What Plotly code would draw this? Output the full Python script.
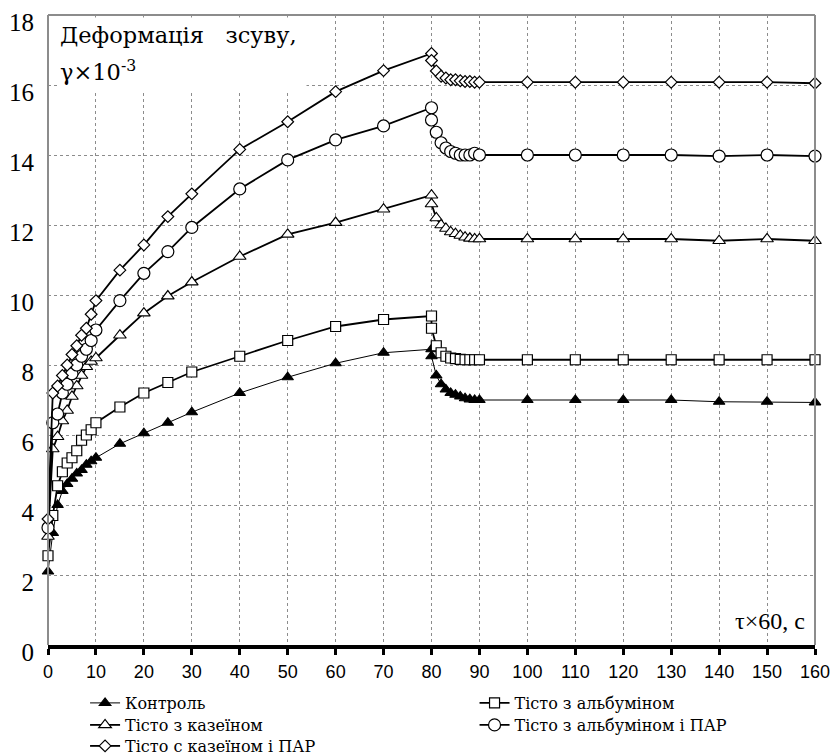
import plotly.graph_objects as go

# time points (×60 s)
t = [0, 1, 2, 3, 4, 5, 6, 7, 8, 9, 10, 15, 20, 25, 30, 40, 50, 60, 70, 80,
     80, 81, 82, 83, 84, 85, 86, 87, 88, 89, 90,
     100, 110, 120, 130, 140, 150, 160]

control = [2.1, 3.2, 4.0, 4.4, 4.6, 4.75, 4.9, 5.0, 5.15, 5.25, 5.35,
           5.75, 6.05, 6.35, 6.65, 7.2, 7.65, 8.05, 8.35, 8.45,
           8.25, 7.7, 7.45, 7.3, 7.2, 7.15, 7.1, 7.05, 7.02, 7.0, 7.0,
           7.0, 7.0, 7.0, 7.0, 6.95, 6.95, 6.93]

albumin = [2.55, 3.7, 4.55, 4.95, 5.2, 5.35, 5.55, 5.85, 6.0, 6.15, 6.35,
           6.8, 7.2, 7.5, 7.8, 8.25, 8.7, 9.1, 9.3, 9.4,
           9.05, 8.55, 8.35, 8.25, 8.2, 8.18, 8.16, 8.15, 8.15, 8.15, 8.15,
           8.15, 8.15, 8.15, 8.15, 8.15, 8.15, 8.15]

casein = [3.1, 5.6, 5.95, 6.4, 6.7, 7.1, 7.4, 7.7, 7.95, 8.1, 8.2,
          8.85, 9.48, 9.97, 10.37, 11.1, 11.73, 12.07, 12.45, 12.85,
          12.6, 12.2, 12.0, 11.9, 11.8, 11.75, 11.7, 11.65, 11.62, 11.6, 11.6,
          11.6, 11.6, 11.6, 11.6, 11.55, 11.6, 11.55]

albumin_par = [3.35, 6.35, 6.6, 7.2, 7.45, 7.75, 8.0, 8.25, 8.45, 8.7, 9.0,
               9.84, 10.62, 11.24, 11.93, 13.03, 13.86, 14.43, 14.83, 15.35,
               15.0, 14.65, 14.35, 14.2, 14.1, 14.05, 14.0, 14.0, 14.0, 14.05, 14.0,
               14.0, 14.0, 14.0, 14.0, 13.97, 14.0, 13.97]

casein_par = [3.6, 7.2, 7.4, 7.7, 8.0, 8.3, 8.55, 8.85, 9.05, 9.45, 9.84,
              10.71, 11.43, 12.24, 12.89, 14.16, 14.95, 15.81, 16.41, 16.9,
              16.7, 16.4, 16.25, 16.2, 16.15, 16.15, 16.12, 16.1, 16.1, 16.08, 16.08,
              16.08, 16.08, 16.08, 16.08, 16.08, 16.08, 16.05]

names = ["Контроль", "Тісто з альбуміном", "Тісто з казеїном",
         "Тісто з альбуміном і ПАР", "Тісто с казеїном і ПАР"]

x_ticks = list(range(0, 161, 10))
y_ticks = list(range(0, 19, 2))

SERIF = "Liberation Serif, Times New Roman, serif"
WIDE_SERIF = "DejaVu Serif, serif"
SANS = "Liberation Sans, Arial, sans-serif"
GRAY = "#8c8c8c"

fig = go.Figure()

styles = [
    (control, "triangle-up", "black", 10, 1.0),
    (albumin, "square", "white", 10, 1.8),
    (casein, "triangle-up", "white", 11, 1.8),
    (albumin_par, "circle", "white", 12, 1.8),
    (casein_par, "diamond", "white", 9, 1.8),
]
legend_ids = ["legend", "legend2", "legend3", "legend4", "legend5"]
# legend slots (container coords): two columns, three rows
legend_x = [0.102, 0.569, 0.102, 0.569, 0.102]
legend_y = [1 - 703 / 756, 1 - 703 / 756, 1 - 725 / 756, 1 - 725 / 756, 1 - 746 / 756]

for (vals, sym, fill, size, lw), name, lid in zip(styles, names, legend_ids):
    fig.add_trace(go.Scatter(
        x=t, y=vals, name=name, mode="lines+markers", legend=lid,
        line=dict(color="black", width=lw),
        marker=dict(symbol=sym, size=size, color=fill,
                    line=dict(color="black", width=1.2)),
        cliponaxis=False,
    ))

legends = {}
for lid, lx, ly in zip(legend_ids, legend_x, legend_y):
    legends[lid] = dict(orientation="v", xref="container", yref="container",
                        x=lx, y=ly, xanchor="left", yanchor="middle",
                        font=dict(family=WIDE_SERIF, size=16, color="black"),
                        itemwidth=30, bgcolor="rgba(0,0,0,0)", borderwidth=0)

fig.update_layout(
    width=834, height=756,
    margin=dict(l=48, r=19, t=15, b=111, autoexpand=False),
    paper_bgcolor="white", plot_bgcolor="white",
    font=dict(family=SERIF, color="black"),
    showlegend=True,
    xaxis=dict(range=[0, 160], tickvals=x_ticks, ticktext=[str(v) for v in x_ticks],
               showgrid=True, gridcolor=GRAY, griddash="dot", gridwidth=1,
               showline=True, linecolor="black", linewidth=3.5,
               ticks="outside", ticklen=6, tickwidth=2.5, tickcolor="black",
               ticklabelstandoff=2,
               tickfont=dict(family=SANS, size=18, color="black"),
               zeroline=False),
    yaxis=dict(range=[0, 18], tickvals=y_ticks, ticktext=[str(v) for v in y_ticks],
               showgrid=True, gridcolor=GRAY, griddash="dot", gridwidth=1,
               showline=False, ticks="",
               ticklabelstandoff=13, ticklabelshift=7,
               ticklabeloverflow="allow",
               tickfont=dict(family=SERIF, size=25, color="black"),
               zeroline=False),
    **legends,
)

# gray frame: left, top, right
for x0, y0, x1, y1 in [(0, 0, 0, 1), (0, 1, 1, 1), (1, 0, 1, 1)]:
    fig.add_shape(type="line", xref="x domain", yref="y domain", x0=x0, y0=y0, x1=x1, y1=y1,
                  line=dict(color=GRAY, width=2), layer="above")

# white box behind the axis title (hides grid lines)
fig.add_annotation(xref="x domain", yref="y domain", x=0.013, y=0.997, xanchor="left", yanchor="top",
                   text=" ", showarrow=False, bgcolor="white", width=247, height=72,
                   borderpad=0, font=dict(size=10))
fig.add_annotation(xref="x domain", yref="y domain", x=0.013, y=0.968, xanchor="left", yanchor="middle",
                   text="Деформація   зсуву,", showarrow=False,
                   font=dict(family=WIDE_SERIF, size=22.5, color="black"))
fig.add_annotation(xref="x domain", yref="y domain", x=0.013, y=0.912, xanchor="left", yanchor="middle",
                   text="γ×10<sup>-3</sup>", showarrow=False,
                   font=dict(family=WIDE_SERIF, size=22.5, color="black"))
fig.add_annotation(xref="x domain", yref="y domain", x=0.99, y=0.015, xanchor="right", yanchor="bottom",
                   text="τ×60, с", showarrow=False,
                   font=dict(family=SERIF, size=24, color="black"))

fig.write_html("out.html")
